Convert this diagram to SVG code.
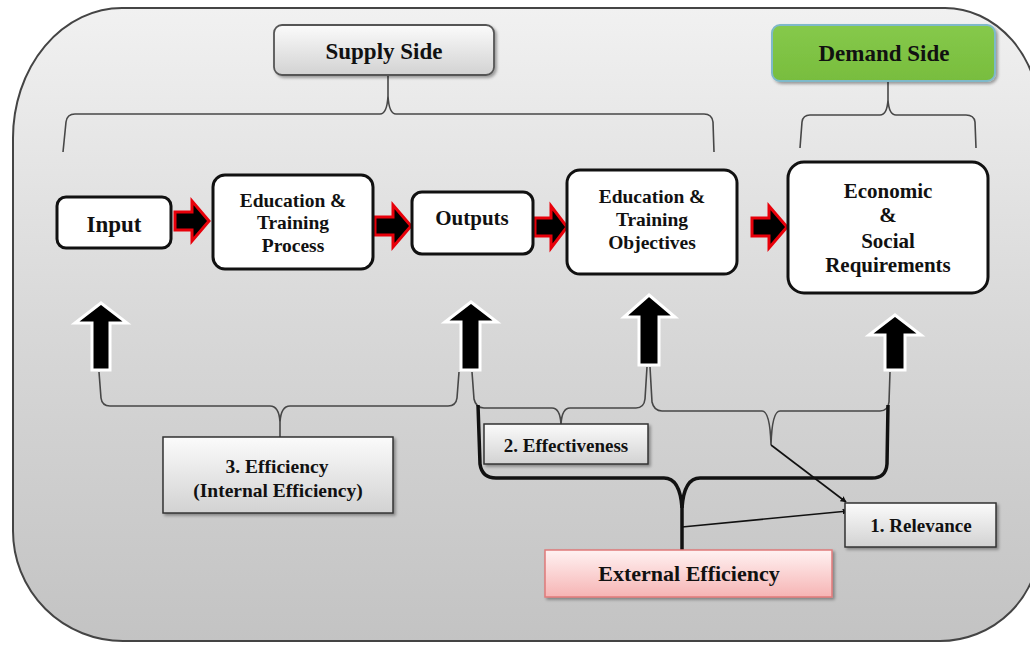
<svg xmlns="http://www.w3.org/2000/svg" width="1030" height="646" viewBox="0 0 1030 646">
  <defs>
    <linearGradient id="bgGrad" x1="0" y1="0" x2="0" y2="1">
      <stop offset="0" stop-color="#f1f1f1"/>
      <stop offset="0.5" stop-color="#d8d8d8"/>
      <stop offset="1" stop-color="#c3c3c3"/>
    </linearGradient>
    <linearGradient id="greyGrad" x1="0" y1="0" x2="0" y2="1">
      <stop offset="0" stop-color="#fbfbfb"/>
      <stop offset="1" stop-color="#d2d2d2"/>
    </linearGradient>
    <linearGradient id="greenGrad" x1="0" y1="0" x2="0" y2="1">
      <stop offset="0" stop-color="#86c94a"/>
      <stop offset="1" stop-color="#78bd3e"/>
    </linearGradient>
    <linearGradient id="pinkGrad" x1="0" y1="0" x2="0" y2="1">
      <stop offset="0" stop-color="#fff2f2"/>
      <stop offset="1" stop-color="#f6b4b4"/>
    </linearGradient>
    <filter id="shadow" x="-10%" y="-10%" width="130%" height="140%">
      <feDropShadow dx="2" dy="2" stdDeviation="1.5" flood-color="#000" flood-opacity="0.35"/>
    </filter>
    <marker id="tri" viewBox="0 0 10 10" refX="9" refY="5" markerWidth="6" markerHeight="6" orient="auto" markerUnits="userSpaceOnUse">
      <path d="M0,0 L10,5 L0,10 Z" fill="#111"/>
    </marker>
    <style>
      .lbl { font-weight: bold; fill: #111; text-anchor: middle; }
      .node { fill: #fff; stroke: #111; stroke-width: 3; }
      .tag { fill: url(#greyGrad); stroke: #333; stroke-width: 1.5; filter: url(#shadow); }
      .flow { fill: #000; stroke: #e8000a; stroke-width: 3; stroke-linejoin: miter; }
      .up { fill: #000; stroke: #fff; stroke-width: 3; stroke-linejoin: miter; }
      .brace { fill: none; stroke: #474747; stroke-width: 1.6; }
      .thick { fill: none; stroke: #111; stroke-width: 3.5; }
      .ptr { fill: none; stroke: #111; stroke-width: 1.6; }
    </style>
  </defs>

  <!-- background panel -->
  <path d="M122,8 H945 A95,110 0 0 1 1040,118 V541 A100,100 0 0 1 940,641 H123 A110,110 0 0 1 13,531 V138 A109,130 0 0 1 122,8 Z" fill="url(#bgGrad)" stroke="#444" stroke-width="2"/>

  <!-- connectors -->
  <g id="connectors">
    <!-- supply side brace -->
    <path class="brace" d="M388,75 V96"/>
    <path class="brace" d="M63,152 L66,122 Q67,114 75,114 H380 Q387,114 388,96 Q389,114 396,114 H704 Q712,114 713,122 L714,152"/>
    <!-- demand side brace -->
    <path class="brace" d="M888,82 V100"/>
    <path class="brace" d="M800,148 L802,122 Q803,115 810,115 H880 Q887,115 888,100 Q889,115 896,115 H966 Q974,115 975,122 L976,148"/>

    <!-- horizontal flow arrows -->
    <path class="flow" d="M175,212 H192 V201 L209,221 L192,241 V230 H175 Z"/>
    <path class="flow" d="M375,217 H393 V205 L411,226 L393,247 V235 H375 Z"/>
    <path class="flow" d="M535,218 H551 V206 L567,227 L551,248 V236 H535 Z"/>
    <path class="flow" d="M752,218 H769 V206 L787,227 L769,248 V236 H752 Z"/>

    <!-- vertical arrows -->
    <path class="up" d="M101,303 L127,323 H110 V370 H92 V323 H75 Z"/>
    <path class="up" d="M471,302 L497,322 H480 V370 H461 V322 H445 Z"/>
    <path class="up" d="M649,295 L675,317 H659 V365 H639 V317 H624 Z"/>
    <path class="up" d="M895,315 L921,335 H905 V370 H885 V335 H869 Z"/>

    <!-- efficiency brace -->
    <path class="brace" d="M99,372 L101,398 Q102,406 110,406 H270 Q279,406 280,422 Q281,406 290,406 H448 Q456,406 457,398 L459,372"/>
    <path class="brace" d="M280,422 V437"/>

    <!-- effectiveness brace -->
    <path class="brace" d="M472,372 L474,399 Q476,408 484,408 H552 Q560,408 561,424 Q562,408 570,408 H636 Q644,408 645,399 L647,367"/>

    <!-- relevance brace -->
    <path class="brace" d="M650,367 L652,402 Q654,411 662,411 H762 Q770,411 771,445 Q772,411 780,411 H880 Q888,411 889,402 L890,372"/>
    <path class="ptr" d="M771,445 L846,502" marker-end="url(#tri)"/>

    <!-- external efficiency brace -->
    <path class="thick" d="M478,405 L480,464 Q482,478 496,478 H664 Q680,478 682,508 Q684,478 700,478 H872 Q886,478 887,464 L888,405"/>
    <path class="thick" d="M682,506 V550"/>
    <path class="ptr" d="M682,527 L848,511" stroke-width="2" marker-end="url(#tri)"/>
  </g>

  <g font-family="Liberation Serif, Times New Roman, DejaVu Serif, serif">
    <!-- header tags -->
    <g id="supply-side">
      <rect x="274" y="25" width="220" height="50" rx="8" fill="url(#greyGrad)" stroke="#555" stroke-width="1.8" filter="url(#shadow)"/>
      <text class="lbl" x="384" y="59" font-size="23">Supply Side</text>
    </g>
    <g id="demand-side">
      <rect x="772" y="25" width="223" height="56" rx="8" fill="url(#greenGrad)" stroke="#7fb9c9" stroke-width="2" filter="url(#shadow)"/>
      <text class="lbl" x="884" y="61" font-size="23">Demand Side</text>
    </g>

    <!-- process nodes -->
    <g id="input">
      <rect class="node" x="57" y="197" width="114" height="51" rx="9"/>
      <text class="lbl" x="114" y="232" font-size="23">Input</text>
    </g>
    <g id="training-process">
      <rect class="node" x="213" y="175" width="160" height="94" rx="12"/>
      <text class="lbl" x="293" y="207" font-size="19.5">Education &amp;</text>
      <text class="lbl" x="293" y="229" font-size="19.5">Training</text>
      <text class="lbl" x="293" y="252" font-size="19.5">Process</text>
    </g>
    <g id="outputs">
      <rect class="node" x="412" y="192" width="121" height="62" rx="10"/>
      <text class="lbl" x="472" y="225" font-size="21">Outputs</text>
    </g>
    <g id="training-objectives">
      <rect class="node" x="567" y="170" width="170" height="104" rx="13"/>
      <text class="lbl" x="652" y="203" font-size="19.5">Education &amp;</text>
      <text class="lbl" x="652" y="226" font-size="19.5">Training</text>
      <text class="lbl" x="652" y="249" font-size="19.5">Objectives</text>
    </g>
    <g id="requirements">
      <rect class="node" x="788" y="162" width="200" height="131" rx="16"/>
      <text class="lbl" x="888" y="198" font-size="21">Economic</text>
      <text class="lbl" x="888" y="222" font-size="21">&amp;</text>
      <text class="lbl" x="888" y="248" font-size="21">Social</text>
      <text class="lbl" x="888" y="272" font-size="21">Requirements</text>
    </g>

    <!-- measure tags -->
    <g id="efficiency">
      <rect class="tag" x="163" y="437" width="230" height="76"/>
      <text class="lbl" x="277" y="473" font-size="19.5">3. Efficiency</text>
      <text class="lbl" x="278" y="497" font-size="19.5">(Internal Efficiency)</text>
    </g>
    <g id="effectiveness">
      <rect class="tag" x="484" y="424" width="164" height="40"/>
      <text class="lbl" x="566" y="452" font-size="19">2. Effectiveness</text>
    </g>
    <g id="relevance">
      <rect class="tag" x="845" y="503" width="151" height="44"/>
      <text class="lbl" x="921" y="532" font-size="19">1. Relevance</text>
    </g>
    <g id="external-efficiency">
      <rect x="545" y="550" width="287" height="47" fill="url(#pinkGrad)" stroke="#e07a7a" stroke-width="1.5" filter="url(#shadow)"/>
      <text class="lbl" x="689" y="581" font-size="22">External Efficiency</text>
    </g>
  </g>
</svg>
